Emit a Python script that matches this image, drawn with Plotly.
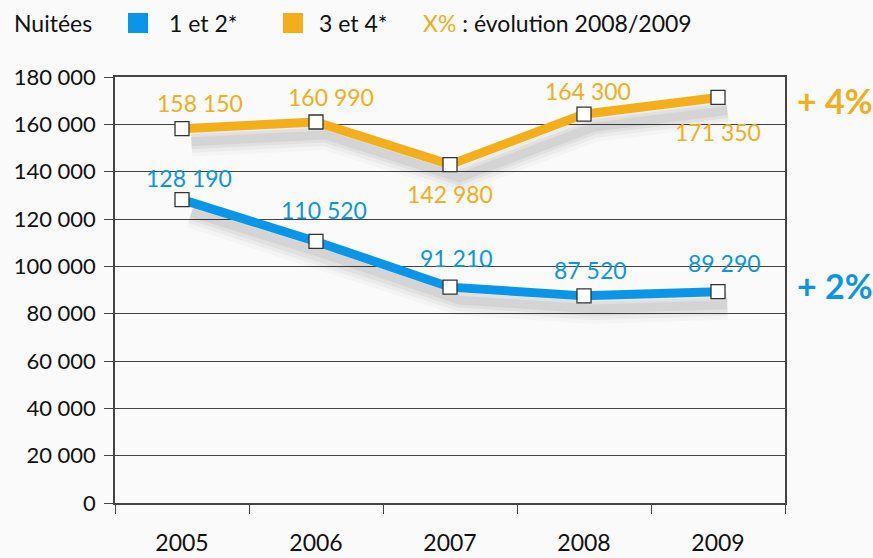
import plotly.graph_objects as go

years = ["2005", "2006", "2007", "2008", "2009"]
s12 = [128190, 110520, 91210, 87520, 89290]
s34 = [158150, 160990, 142980, 164300, 171350]
lbl12 = ["128 190", "110 520", "91 210", "87 520", "89 290"]
lbl34 = ["158 150", "160 990", "142 980", "164 300", "171 350"]
ytick_vals = [0, 20000, 40000, 60000, 80000, 100000, 120000, 140000, 160000, 180000]
ytick_text = ["0", "20 000", "40 000", "60 000", "80 000", "100 000", "120 000", "140 000", "160 000", "180 000"]
evo12 = "+ 2%"
evo34 = "+ 4%"

BLUE = "#0A96E8"
ORANGE = "#F3AE1A"
FONT = "Lato"

# label offsets (pixels)
off34 = [(18, 26), (15, 25), (0, -29), (4, 23), (0, -35)]
off12 = [(7, 22), (8, 31), (6, 29), (6, 26), (6, 29)]

fig = go.Figure()

# base visible axes
fig.add_trace(go.Scatter(x=years, y=[None]*5, mode="lines", showlegend=False, hoverinfo="skip"))

# shadow layers (on shifted overlay axes)
for w, a in [(30, 0.025), (22, 0.035), (15, 0.045), (9, 0.05)]:
    for ys in (s12, s34):
        fig.add_trace(go.Scatter(x=years, y=ys, mode="lines", xaxis="x2", yaxis="y2",
                                 line=dict(color=f"rgba(0,0,0,{a})", width=w),
                                 hoverinfo="skip", showlegend=False))

# main lines
for ys, col in ((s34, ORANGE), (s12, BLUE)):
    fig.add_trace(go.Scatter(x=years, y=ys, mode="lines+markers", xaxis="x3", yaxis="y3",
                             line=dict(color=col, width=9),
                             marker=dict(symbol="square", size=14, color="white",
                                         line=dict(color="#333333", width=1.3)),
                             showlegend=False))

ann = []
for i in range(len(years)):
    ann.append(dict(x=i, y=s34[i], xref="x", yref="y", text=lbl34[i], showarrow=False,
                    xshift=off34[i][0], yshift=off34[i][1],
                    font=dict(family=FONT, size=23, color=ORANGE)))
    ann.append(dict(x=i, y=s12[i], xref="x", yref="y", text=lbl12[i], showarrow=False,
                    xshift=off12[i][0], yshift=off12[i][1],
                    font=dict(family=FONT, size=23, color=BLUE)))

ann.append(dict(x=1.0, y=s34[-1], xref="paper", yref="y", text=f"<b>{evo34}</b>",
                showarrow=False, xanchor="left", xshift=10, yshift=-3,
                font=dict(family=FONT, size=34, color=ORANGE)))
ann.append(dict(x=1.0, y=s12[-1], xref="paper", yref="y", text=f"<b>{evo12}</b>",
                showarrow=False, xanchor="left", xshift=10, yshift=6,
                font=dict(family=FONT, size=34, color=BLUE)))

W, H = 873, 558
L, R, T, B = 115, 88, 77, 55
pw, ph = W - L - R, H - T - B

lf = dict(family=FONT, size=23, color="#111111")
for px, txt in ((12, "Nuitées"), (167, "1 et 2*"), (317, "3 et 4*"),
                (421, f"<span style='color:{ORANGE}'>X%</span> : évolution 2008/2009")):
    ann.append(dict(x=(px - L) / pw, y=(H - B - 23) / ph, xref="paper", yref="paper",
                    text=txt, showarrow=False, xanchor="left", yanchor="middle", font=lf))

shapes = []
for x0, col in ((128, BLUE), (283, ORANGE)):
    shapes.append(dict(type="rect", xref="paper", yref="paper",
                       x0=(x0 - L) / pw, x1=(x0 + 20 - L) / pw,
                       y0=(H - B - 33) / ph, y1=(H - B - 13) / ph,
                       fillcolor=col, line=dict(width=0)))

axcommon = dict(showgrid=False, zeroline=False)
fig.update_layout(
    width=W, height=H,
    margin=dict(l=L, r=R, t=T, b=B, autoexpand=False),
    paper_bgcolor="#fafafa", plot_bgcolor="#fafafa",
    font=dict(family=FONT, size=20, color="#111111"),
    showlegend=False,
    annotations=ann, shapes=shapes,
    xaxis=dict(type="category", range=[-0.5, 4.5], tickson="boundaries", ticks="outside",
               ticklen=9, tickcolor="#444444", tickwidth=1.3, showline=True, linecolor="#444444",
               linewidth=1.5, mirror=True, showgrid=False, zeroline=False, automargin=False,
               tickfont=dict(family=FONT, size=23, color="#111111"), ticklabelstandoff=19),
    yaxis=dict(range=[0, 180000], tickvals=ytick_vals, ticktext=ytick_text, ticks="outside",
               ticklen=9, tickcolor="#444444", tickwidth=1.3, showgrid=True, gridcolor="#444444",
               gridwidth=1.3, showline=True, linecolor="#444444", linewidth=1.5, mirror=True,
               zeroline=False, automargin=False,
               tickfont=dict(family=FONT, size=22, color="#111111"),
               ticklabelstandoff=4),
    xaxis2=dict(type="category", overlaying="x", range=[-0.57, 4.43], visible=False, **axcommon),
    yaxis2=dict(overlaying="y", range=[5500, 185500], visible=False, **axcommon),
    xaxis3=dict(type="category", overlaying="x", range=[-0.5, 4.5], visible=False, **axcommon),
    yaxis3=dict(overlaying="y", range=[0, 180000], visible=False, **axcommon),
)

fig.write_html("out.html", config={"displayModeBar": False},
               post_script="document.body.style.margin='0';")
